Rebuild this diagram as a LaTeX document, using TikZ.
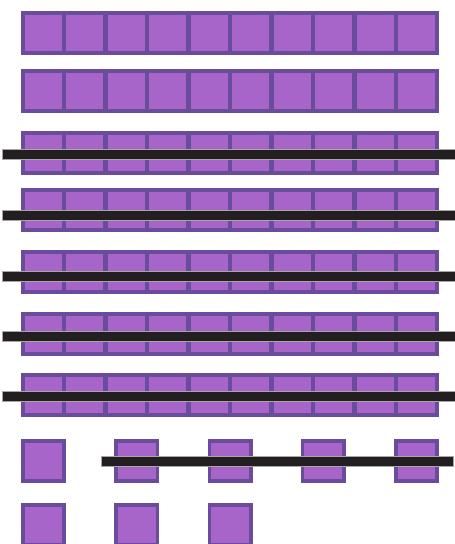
\documentclass[tikz,border=0pt]{standalone}
\definecolor{sqfill}{HTML}{A865C9}
\definecolor{sqline}{HTML}{6A4C9C}
\definecolor{barcol}{HTML}{231F20}
\begin{document}
\begin{tikzpicture}[x=1pt,y=-1pt,
  sq/.style={fill=sqfill,draw=sqline,line width=3.6pt},
  bar/.style={fill=barcol,draw=black!35,line width=0.8pt}]
\useasboundingbox (0,0) rectangle (455,544);
% full rows
\foreach \t in {11,69,131,188,250,312,373}{
  \foreach \i in {0,...,9}{
    \pgfmathsetmacro{\xa}{21+\i*41.5}
    \draw[sq] (\xa+1.8,\t+1.8) rectangle (\xa+44.5-1.8,\t+44-1.8);
  }
}
% bars through rows 3-7
\foreach \c in {154,215,276,336.5,396.5}{
  \draw[bar] (2,\c-5) rectangle (456,\c+5);
}
% row 8
\foreach \i in {0,...,4}{
  \pgfmathsetmacro{\xa}{21+\i*93.25}
  \draw[sq] (\xa+1.8,439+1.8) rectangle (\xa+45-1.8,439+44-1.8);
}
\draw[bar] (101,461-5) rectangle (453,461+5);
% row 9
\foreach \i in {0,...,2}{
  \pgfmathsetmacro{\xa}{21+\i*93.25}
  \draw[sq] (\xa+1.8,503+1.8) rectangle (\xa+45-1.8,503+44-1.8);
}
\end{tikzpicture}
\end{document}
